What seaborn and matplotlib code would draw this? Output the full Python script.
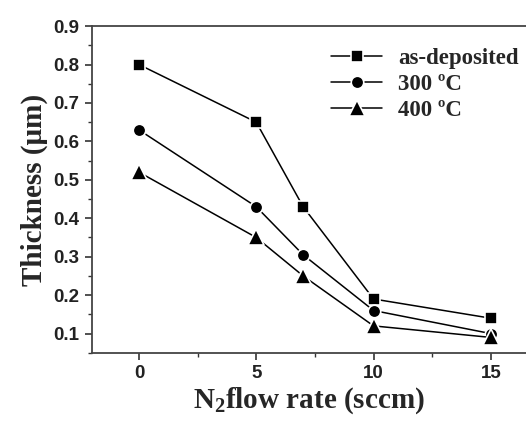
import matplotlib
matplotlib.use("Agg")
import matplotlib.pyplot as plt
import seaborn as sns
import pandas as pd
from matplotlib.ticker import MultipleLocator

flow = [0, 5, 7, 10, 15]
as_dep = [0.80, 0.65, 0.43, 0.19, 0.14]
t300 = [0.63, 0.43, 0.305, 0.16, 0.10]
t400 = [0.52, 0.35, 0.25, 0.12, 0.09]
series_names = ["as-deposited", "300 ºC", "400 ºC"]

sns.set_theme(style="white")
plt.rcParams["font.family"] = ["Liberation Serif", "DejaVu Serif"]
plt.rcParams["mathtext.fontset"] = "custom"
plt.rcParams["mathtext.rm"] = "Liberation Serif:bold"
plt.rcParams["mathtext.default"] = "rm"

rows = []
for name, vals in zip(series_names, [as_dep, t300, t400]):
    for x, y in zip(flow, vals):
        rows.append({"flow": x, "thick": y, "series": name})
df = pd.DataFrame(rows)

fig = plt.figure(figsize=(5.26, 4.21), dpi=100)
ax = fig.add_axes([0.175, 0.162, 0.825, 0.776])

sns.lineplot(data=df, x="flow", y="thick", style="series", hue="series",
             palette=["black"] * 3, markers=["s", "o", "^"], dashes=False,
             markersize=9, linewidth=1.1, markeredgecolor="white",
             markeredgewidth=1.2, ax=ax, legend=True)
for ln in ax.lines:
    if ln.get_marker() == "^":
        ln.set_markersize(11)

ax.set_xlim(-2, 16.5)
ax.set_ylim(0.05, 0.9)
ax.xaxis.set_major_locator(MultipleLocator(5))
ax.xaxis.set_minor_locator(MultipleLocator(2.5))
ax.yaxis.set_major_locator(MultipleLocator(0.1))
ax.yaxis.set_minor_locator(MultipleLocator(0.05))
ax.tick_params(which="major", direction="out", length=5, width=1.2, color="#333333",
               bottom=True, left=True, pad=4)
ax.tick_params(which="minor", direction="out", length=3, width=1.0, color="#333333",
               bottom=True, left=True)
ax.set_yticks([0.1, 0.2, 0.3, 0.4, 0.5, 0.6, 0.7, 0.8, 0.9])
ax.set_yticklabels(["0.1", "0.2", "0.3", "0.4", "0.5", "0.6", "0.7", "0.8", "0.9"])
ax.set_xticks([0, 5, 10, 15])
ax.set_xticklabels(["0", "5", "10", "15"])
for lab in ax.get_xticklabels() + ax.get_yticklabels():
    lab.set_fontfamily("Liberation Sans")
    lab.set_fontweight("bold")
    lab.set_fontsize(13.5)
    lab.set_color("#222222")

for side in ["left", "bottom", "top"]:
    ax.spines[side].set_color("#444444")
    ax.spines[side].set_linewidth(1.3)
ax.spines["right"].set_visible(False)

ax.set_xlabel(r"N$_{\mathregular{2}}$flow rate (sccm)", fontsize=21, fontweight="bold", labelpad=2)
ax.set_ylabel("Thickness (μm)", fontsize=21, fontweight="bold", labelpad=4)

handles, labels = ax.get_legend_handles_labels()
for h in handles:
    if h.get_marker() == "^":
        h.set_markersize(11)
leg = ax.legend(handles, labels, loc="upper right", bbox_to_anchor=(1.03, 0.995),
                frameon=False, handlelength=2.2, handletextpad=0.7, labelspacing=0.2,
                prop={"family": "Liberation Serif", "weight": "bold", "size": 16.5})

fig.savefig("out.png", dpi=100)
